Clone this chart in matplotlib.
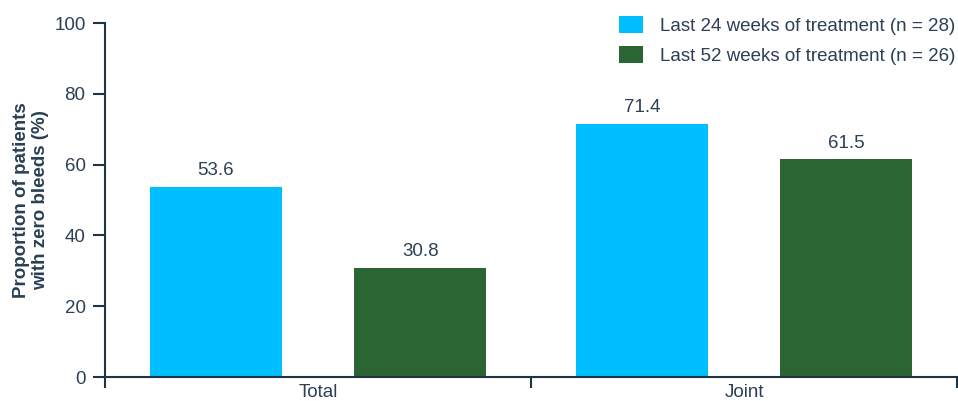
import matplotlib
matplotlib.use("Agg")
import matplotlib.pyplot as plt
import numpy as np
from matplotlib.patches import Patch

categories = ["Total", "Joint"]
series_names = ["Last 24 weeks of treatment (n = 28)", "Last 52 weeks of treatment (n = 26)"]
last24 = [53.6, 71.4]
last52 = [30.8, 61.5]
yticks = [0, 20, 40, 60, 80, 100]

plt.rcParams['font.family'] = ['Liberation Sans', 'DejaVu Sans']
TXT = "#2b3f55"
SPINE = "#1d3446"
BLUE = "#00bfff"
GREEN = "#2c6534"
FS = 13.5

fig = plt.figure(figsize=(9.58, 4.01), dpi=100)
ax = fig.add_axes([105/958, 1-377/401, 852/958, (377-23)/401])

x = np.arange(len(categories))
w = 0.31
off = 0.24
b1 = ax.bar(x - off, last24, w, color=BLUE)
b2 = ax.bar(x + off, last52, w, color=GREEN)
for bars, vals in ((b1, last24), (b2, last52)):
    for r, v in zip(bars, vals):
        ax.text(r.get_x() + r.get_width()/2, v + 2.2, f"{v:.1f}", ha="center", va="bottom",
                fontsize=FS, color=TXT)

ax.set_xlim(-0.5, len(categories) - 0.5)
ax.set_ylim(0, 100)
ax.set_yticks(yticks)
ax.set_yticklabels([str(t) for t in yticks], fontsize=FS, color=TXT)
ax.tick_params(axis="y", length=9, width=1.5, color=SPINE, pad=5)
ax.set_xticks(np.arange(-0.5, len(categories), 1.0))
ax.set_xticklabels([])
ax.set_xticks(x, minor=True)
ax.set_xticklabels(categories, minor=True, fontsize=FS, color=TXT)
ax.tick_params(axis="x", which="major", length=8, width=1.5, color=SPINE)
ax.tick_params(axis="x", which="minor", length=0, pad=5)

for s in ("top", "right"):
    ax.spines[s].set_visible(False)
for s in ("left", "bottom"):
    ax.spines[s].set_color(SPINE)
    ax.spines[s].set_linewidth(1.5)

ax.set_ylabel("Proportion of patients\nwith zero bleeds (%)", fontsize=FS, fontweight="bold",
              color=TXT, labelpad=4, linespacing=1.15)

handles = [Patch(facecolor=BLUE), Patch(facecolor=GREEN)]
leg = ax.legend(handles, series_names, loc="upper right", bbox_to_anchor=(1.007, 1.04),
                frameon=False, fontsize=FS, handlelength=1.3, handleheight=1.0,
                handletextpad=0.9, labelspacing=0.6, borderaxespad=0)
for t in leg.get_texts():
    t.set_color(TXT)

fig.savefig("out.png", dpi=100)
